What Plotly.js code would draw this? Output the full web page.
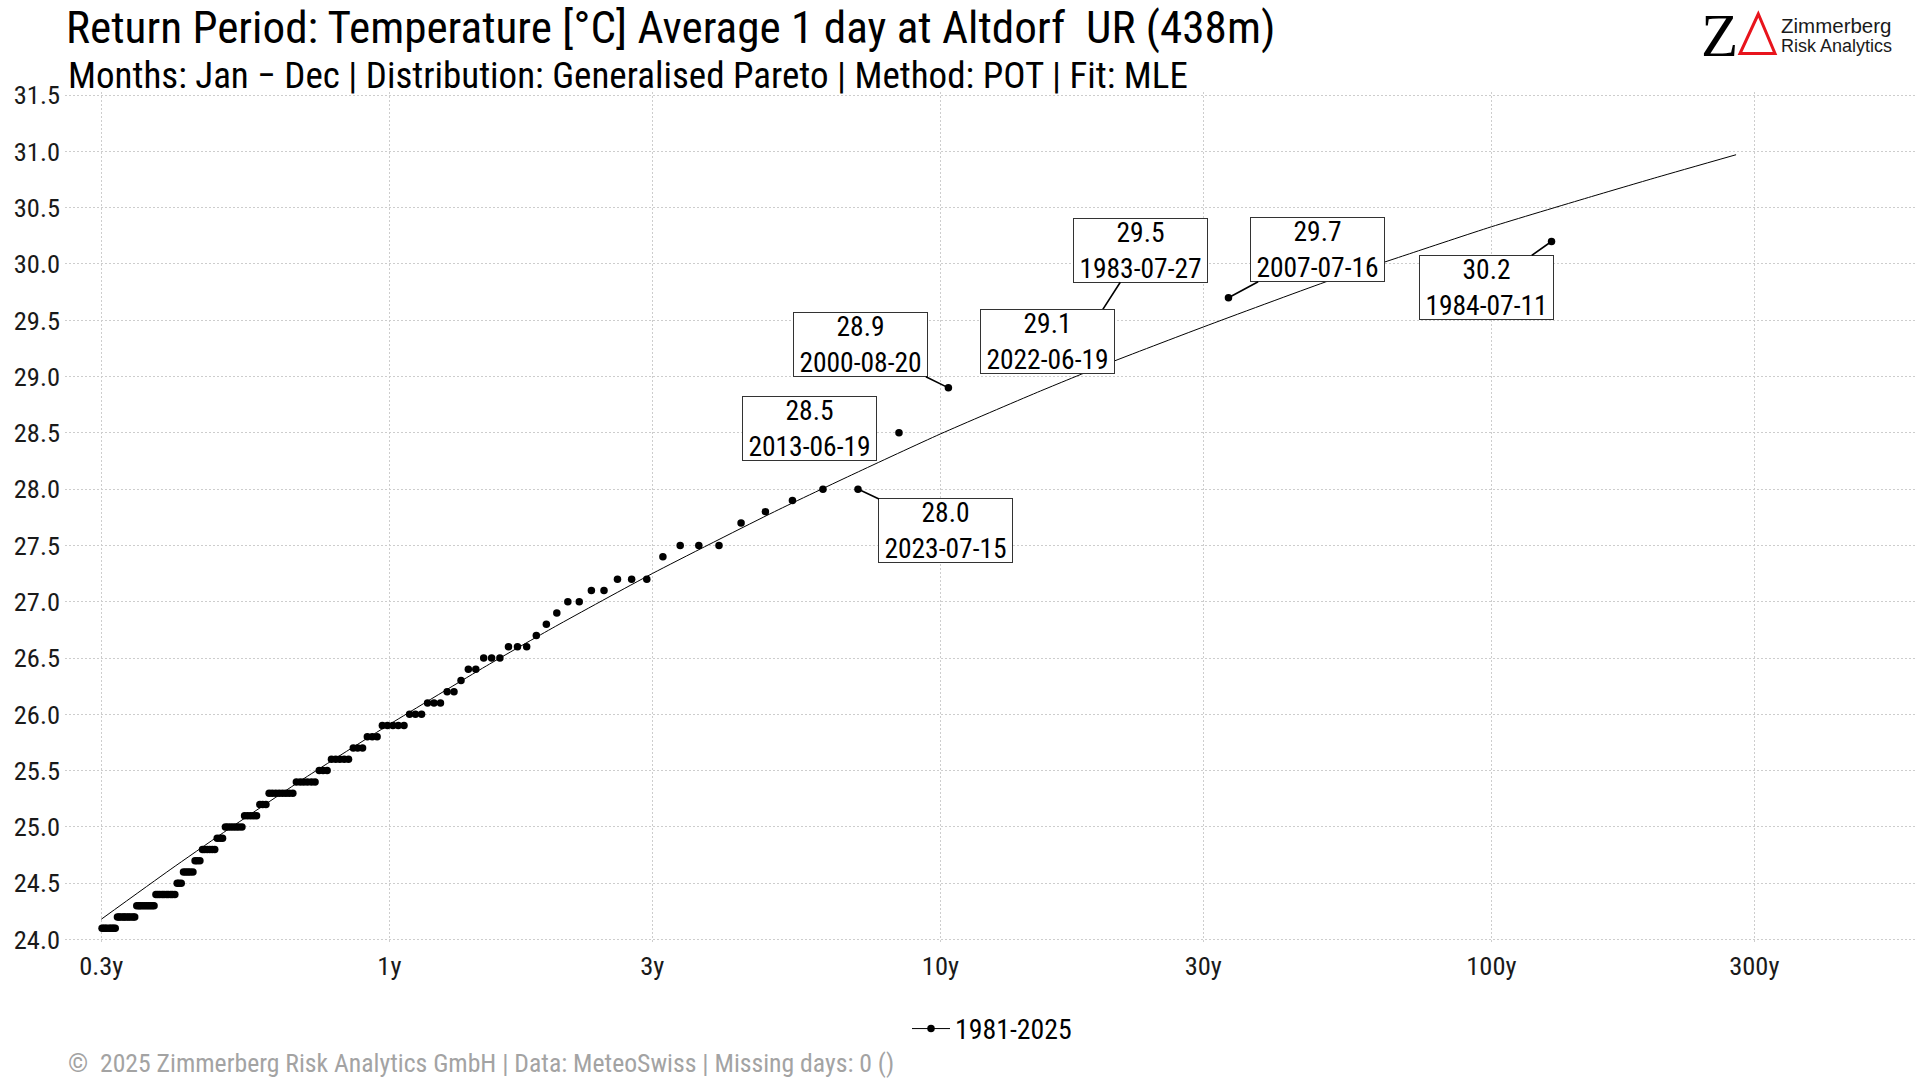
<!DOCTYPE html>
<html>
<head>
<meta charset="utf-8">
<script src="https://cdn.plot.ly/plotly-3.0.1.min.js"></script>
<style>
html, body { margin: 0; padding: 0; background: #ffffff; }
#chart { width: 1920px; height: 1080px; }
</style>
</head>
<body>
<div id="chart"></div>
<script>
// ---------- data ----------
// empirical return periods (years) of the 150 peaks over threshold, by rank
const returnPeriodYears = [
  128.57, 33.33, 19.15, 13.43, 10.34, 8.411, 7.087, 6.122, 5.389, 4.813,
  4.348, 3.965, 3.644, 3.371, 3.136, 2.932, 2.752, 2.594, 2.452, 2.326,
  2.211, 2.108, 2.013, 1.927, 1.848, 1.775, 1.708, 1.645, 1.587, 1.533,
  1.483, 1.435, 1.391, 1.349, 1.310, 1.273, 1.238, 1.205, 1.173, 1.144,
  1.115, 1.088, 1.063, 1.038, 1.015, 0.992, 0.971, 0.950, 0.931, 0.912,
  0.894, 0.876, 0.860, 0.843, 0.828, 0.813, 0.799, 0.785, 0.771, 0.758,
  0.746, 0.733, 0.722, 0.710, 0.699, 0.689, 0.678, 0.668, 0.658, 0.649,
  0.640, 0.631, 0.622, 0.613, 0.605, 0.597, 0.589, 0.582, 0.574, 0.567,
  0.560, 0.553, 0.546, 0.540, 0.533, 0.527, 0.521, 0.515, 0.509, 0.504,
  0.498, 0.493, 0.487, 0.482, 0.477, 0.472, 0.467, 0.462, 0.458, 0.453,
  0.448, 0.444, 0.440, 0.435, 0.431, 0.427, 0.423, 0.419, 0.415, 0.412,
  0.408, 0.404, 0.401, 0.397, 0.394, 0.390, 0.387, 0.383, 0.380, 0.377,
  0.374, 0.371, 0.368, 0.365, 0.362, 0.359, 0.356, 0.353, 0.351, 0.348,
  0.345, 0.343, 0.340, 0.337, 0.335, 0.332, 0.330, 0.328, 0.325, 0.323,
  0.321, 0.318, 0.316, 0.314, 0.312, 0.310, 0.307, 0.305, 0.303, 0.301
];
// observed daily mean temperatures [°C], same order
const temperatureC = [
  30.2, 29.7, 29.5, 29.1, 28.9, 28.5, 28.0, 28.0, 27.9, 27.8,
  27.7, 27.5, 27.5, 27.5, 27.4, 27.2, 27.2, 27.2, 27.1, 27.1,
  27.0, 27.0, 26.9, 26.8, 26.7, 26.6, 26.6, 26.6, 26.5, 26.5,
  26.5, 26.4, 26.4, 26.3, 26.2, 26.2, 26.1, 26.1, 26.1, 26.0,
  26.0, 26.0, 25.9, 25.9, 25.9, 25.9, 25.9, 25.8, 25.8, 25.8,
  25.7, 25.7, 25.7, 25.6, 25.6, 25.6, 25.6, 25.6, 25.5, 25.5,
  25.5, 25.4, 25.4, 25.4, 25.4, 25.4, 25.4, 25.3, 25.3, 25.3,
  25.3, 25.3, 25.3, 25.3, 25.3, 25.2, 25.2, 25.2, 25.1, 25.1,
  25.1, 25.1, 25.1, 25.0, 25.0, 25.0, 25.0, 25.0, 25.0, 25.0,
  24.9, 24.9, 24.9, 24.8, 24.8, 24.8, 24.8, 24.8, 24.8, 24.7,
  24.7, 24.7, 24.6, 24.6, 24.6, 24.6, 24.6, 24.5, 24.5, 24.5,
  24.4, 24.4, 24.4, 24.4, 24.4, 24.4, 24.4, 24.4, 24.4, 24.4,
  24.3, 24.3, 24.3, 24.3, 24.3, 24.3, 24.3, 24.3, 24.3, 24.3,
  24.2, 24.2, 24.2, 24.2, 24.2, 24.2, 24.2, 24.2, 24.2, 24.2,
  24.2, 24.1, 24.1, 24.1, 24.1, 24.1, 24.1, 24.1, 24.1, 24.1
];
// fitted Generalised Pareto return level curve
const fitReturnPeriod = [0.3, 0.4, 0.5, 0.7, 1, 1.5, 2, 3, 5, 7, 10, 15, 20, 30, 50, 70, 100, 150, 200, 278];
const fitLevel = [24.18, 24.62, 24.95, 25.43, 25.91, 26.43, 26.78, 27.25, 27.80, 28.14, 28.49, 28.86, 29.11, 29.44, 29.84, 30.08, 30.33, 30.59, 30.77, 30.97];
// labelled events: rank index into the arrays above, and date
const labelRank = [2, 3, 0, 1, 4, 5, 6];
const labelDate = ['1983-07-27', '2022-06-19', '1984-07-11', '2007-07-16', '2000-08-20', '2013-06-19', '2023-07-15'];
// tick labels
const xTickVals = [0.3, 1, 3, 10, 30, 100, 300];
const xTickText = ['0.3y', '1y', '3y', '10y', '30y', '100y', '300y'];
const yTickVals = [24.0, 24.5, 25.0, 25.5, 26.0, 26.5, 27.0, 27.5, 28.0, 28.5, 29.0, 29.5, 30.0, 30.5, 31.0, 31.5];
const seriesName = '1981-2025';

// ---------- label placement (layout only, in pixels relative to the point) ----------
const labelPlacement = [
  {ax: 45, ay: -70, arrow: true},      // 29.5
  {dx: 37, dy: 24, arrow: false},      // 29.1
  {ax: -65, ay: 46, arrow: true},      // 30.2
  {ax: 89, ay: -48, arrow: true},      // 29.7
  {ax: -88, ay: -43, arrow: true},     // 28.9
  {dx: -89, dy: 4, arrow: false},      // 28.5
  {ax: 88, ay: 41, arrow: true}        // 28.0
];

const FONT = '"Roboto Condensed", "Liberation Sans Narrow", "DejaVu Sans Condensed", sans-serif';

// ---------- geometry helpers for paper coordinates ----------
const W = 1920, H = 1080;
const M = {l: 65, r: 4, t: 92, b: 137};
const pw = W - M.l - M.r, ph = H - M.t - M.b;
const px = x => (x - M.l) / pw;
const py = y => (H - M.b - y) / ph;

const traces = [
  {
    x: fitReturnPeriod, y: fitLevel, type: 'scatter', mode: 'lines',
    line: {color: '#000000', width: 1, shape: 'spline', smoothing: 0.6},
    showlegend: false, hoverinfo: 'skip'
  },
  {
    x: returnPeriodYears, y: temperatureC, type: 'scatter', mode: 'markers',
    marker: {color: '#000000', size: 7.5},
    name: seriesName, showlegend: false
  },
  {
    x: [null], y: [null], type: 'scatter', mode: 'lines+markers',
    line: {color: '#000000', width: 1}, marker: {color: '#000000', size: 7.5},
    name: seriesName, showlegend: true
  }
];

const annotations = labelRank.map((r, k) => {
  const p = labelPlacement[k];
  const a = {
    x: Math.log10(returnPeriodYears[r]), y: temperatureC[r], xref: 'x', yref: 'y',
    text: temperatureC[r].toFixed(1) + '<br>' + labelDate[k],
    font: {family: FONT, size: 27.5, color: '#000000'},
    bgcolor: '#ffffff', bordercolor: '#333333', borderwidth: 1, borderpad: 3,
    align: 'center', width: 127, height: 57
  };
  if (p.arrow) {
    Object.assign(a, {showarrow: true, ax: p.ax, ay: p.ay, arrowhead: 0,
      arrowwidth: 1.6, arrowcolor: '#000000', standoff: 1});
  } else {
    Object.assign(a, {showarrow: false, xshift: p.dx, yshift: p.dy});
  }
  return a;
});

// subtitle, logo, footer
annotations.push(
  {xref: 'paper', yref: 'paper', x: px(66), y: py(75), xanchor: 'left', yanchor: 'middle',
   text: 'Months: Jan − Dec | Distribution: Generalised Pareto | Method: POT | Fit: MLE',
   showarrow: false, font: {family: FONT, size: 37, color: '#000000'}},
  {xref: 'paper', yref: 'paper', x: px(1719), y: py(35), text: 'Z', showarrow: false,
   font: {family: '"Liberation Serif", "DejaVu Serif", serif', size: 61, color: '#000000'},
   xanchor: 'center', yanchor: 'middle'},
  {xref: 'paper', yref: 'paper', x: px(1779), y: py(25), text: 'Zimmerberg', showarrow: false,
   font: {family: '"Liberation Sans", Arial, sans-serif', size: 20.5, color: '#1a1a1a'},
   xanchor: 'left', yanchor: 'middle'},
  {xref: 'paper', yref: 'paper', x: px(1779), y: py(46), text: 'Risk Analytics', showarrow: false,
   font: {family: '"Liberation Sans", Arial, sans-serif', size: 18, color: '#1a1a1a'},
   xanchor: 'left', yanchor: 'middle'},
  {xref: 'paper', yref: 'paper', x: px(66), y: py(1063),
   text: '©  2025 Zimmerberg Risk Analytics GmbH | Data: MeteoSwiss | Missing days: 0 ()',
   showarrow: false, font: {family: FONT, size: 25.7, color: '#a3a3a3'},
   xanchor: 'left', yanchor: 'middle'}
);

const shapes = [
  {type: 'path', xref: 'paper', yref: 'paper',
   path: 'M ' + px(1758.3) + ' ' + py(14) + ' L ' + px(1740) + ' ' + py(53.5) + ' L ' + px(1775) + ' ' + py(53.5) + ' Z',
   line: {color: '#e8141c', width: 3}, fillcolor: 'rgba(0,0,0,0)'}
];

const layout = {
  width: W, height: H,
  margin: M,
  paper_bgcolor: '#ffffff', plot_bgcolor: '#ffffff',
  font: {family: FONT, color: '#000000', size: 26},
  title: {
    text: 'Return Period: Temperature [°C] Average 1 day at Altdorf  UR (438m)',
    font: {family: FONT, size: 45.2, color: '#000000'},
    xref: 'container', yref: 'container', x: 66 / W, xanchor: 'left',
    y: 1 - 27.5 / H, yanchor: 'middle'
  },
  xaxis: {
    type: 'log', range: [-0.5887, 2.7706],
    tickvals: xTickVals, ticktext: xTickText,
    showgrid: true, gridcolor: '#cdcdcd', gridwidth: 1, griddash: '2px,2px',
    zeroline: false, showline: false, ticks: '', ticklabelstandoff: 4,
    tickfont: {family: FONT, size: 26.5, color: '#1a1a1a'}
  },
  yaxis: {
    range: [23.969, 31.527],
    tickvals: yTickVals, tickformat: '.1f',
    showgrid: true, gridcolor: '#cdcdcd', gridwidth: 1, griddash: '2px,2px',
    zeroline: false, showline: false, ticks: '', ticklabelstandoff: 4,
    tickfont: {family: FONT, size: 26.5, color: '#1a1a1a'}
  },
  showlegend: true,
  legend: {
    orientation: 'h', x: px(907), xanchor: 'left', y: py(1029), yanchor: 'middle',
    itemwidth: 38,
    font: {family: FONT, size: 27.8, color: '#000000'}, bgcolor: 'rgba(0,0,0,0)'
  },
  annotations: annotations,
  shapes: shapes,
  hovermode: false
};

Plotly.newPlot('chart', traces, layout, {staticPlot: true, displayModeBar: false});
</script>
</body>
</html>
